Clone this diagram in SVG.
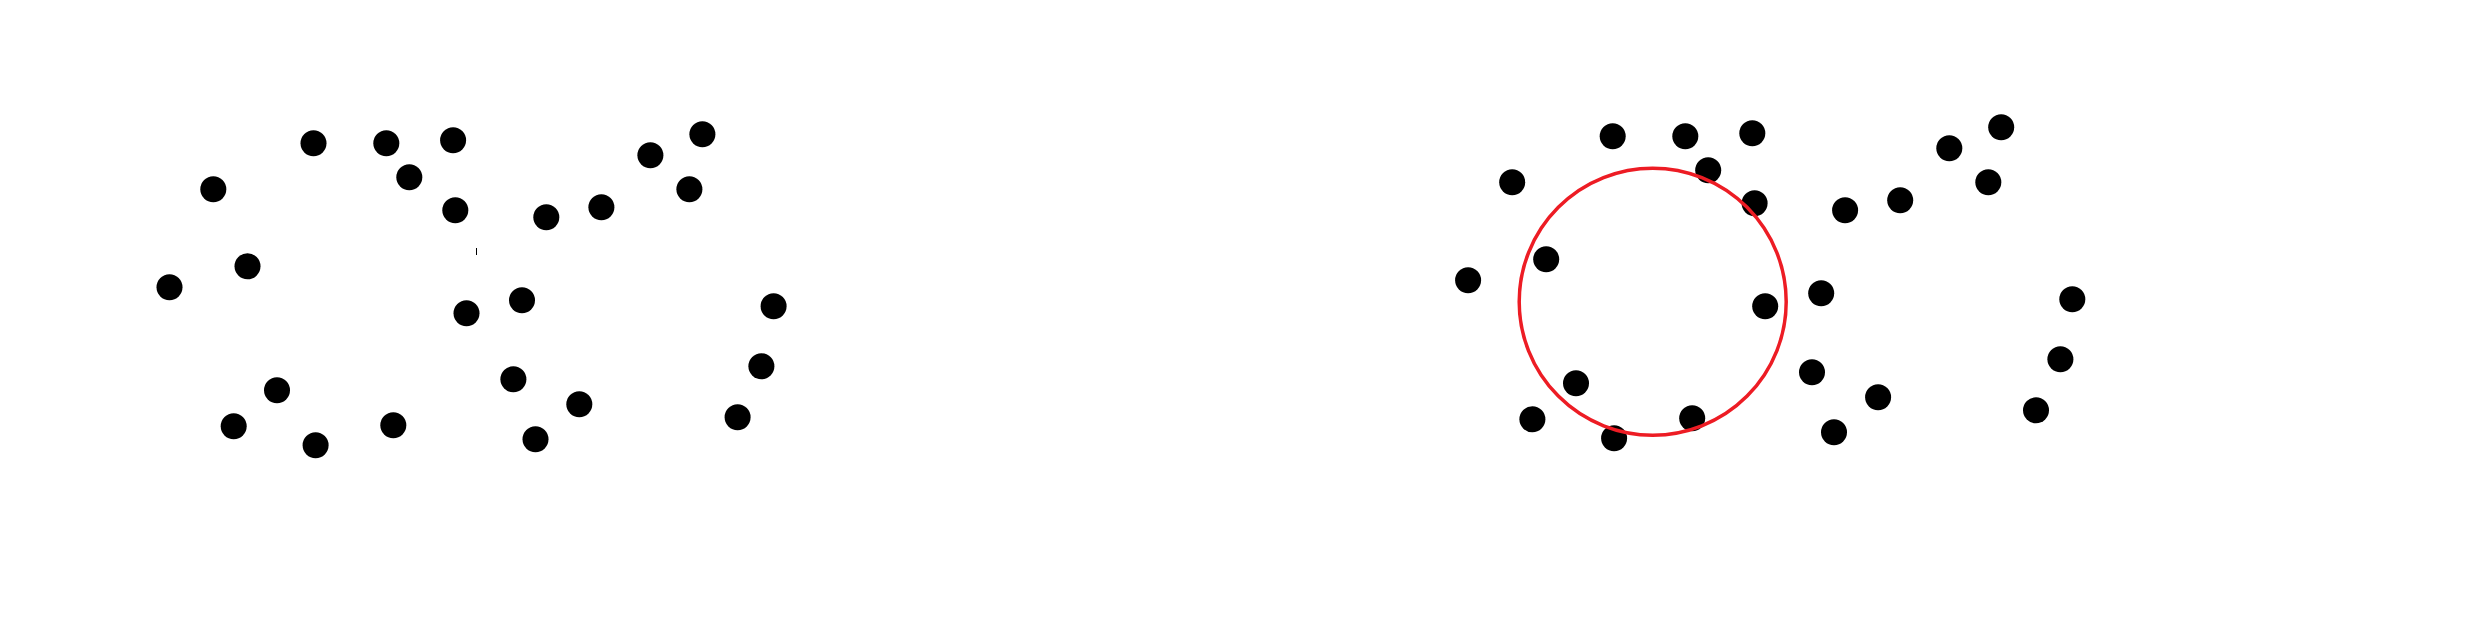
<svg xmlns="http://www.w3.org/2000/svg" width="2485" height="637" viewBox="0 0 2485 637">
<style>
.dot{fill:#000}
.ring{fill:none;stroke:#ED1C24;stroke-width:3.5}
</style>
<rect width="2485" height="637" fill="#fff"/>
<g id="left-panel">
<circle class="dot" cx="313.5" cy="143.3" r="13"/>
<circle class="dot" cx="386.3" cy="143.3" r="13"/>
<circle class="dot" cx="453.1" cy="140.3" r="13"/>
<circle class="dot" cx="409.3" cy="177.3" r="13"/>
<circle class="dot" cx="213.3" cy="189.3" r="13"/>
<circle class="dot" cx="455.3" cy="210.3" r="13"/>
<circle class="dot" cx="546.3" cy="217.3" r="13"/>
<circle class="dot" cx="601.4" cy="207.3" r="13"/>
<circle class="dot" cx="650.4" cy="155.3" r="13"/>
<circle class="dot" cx="702.4" cy="134.3" r="13"/>
<circle class="dot" cx="689.4" cy="189.3" r="13"/>
<circle class="dot" cx="247.5" cy="266.3" r="13"/>
<circle class="dot" cx="169.5" cy="287.3" r="13"/>
<circle class="dot" cx="466.5" cy="313.3" r="13"/>
<circle class="dot" cx="522" cy="300.3" r="13"/>
<circle class="dot" cx="773.6" cy="306.3" r="13"/>
<circle class="dot" cx="761.4" cy="366.3" r="13"/>
<circle class="dot" cx="737.6" cy="417.3" r="13"/>
<circle class="dot" cx="513.4" cy="379.3" r="13"/>
<circle class="dot" cx="579.3" cy="404.3" r="13"/>
<circle class="dot" cx="535.5" cy="439.3" r="13"/>
<circle class="dot" cx="277" cy="390.3" r="13"/>
<circle class="dot" cx="233.7" cy="426.3" r="13"/>
<circle class="dot" cx="315.6" cy="445.3" r="13"/>
<circle class="dot" cx="393.3" cy="425.3" r="13"/>
<rect x="476" y="248" width="1" height="7" fill="#000"/>
</g>
<g id="right-panel">
<circle class="dot" cx="1612.7" cy="136.3" r="13"/>
<circle class="dot" cx="1685.3" cy="136.3" r="13"/>
<circle class="dot" cx="1752.3" cy="133.3" r="13"/>
<circle class="dot" cx="1708.2" cy="170.3" r="13"/>
<circle class="dot" cx="1512.2" cy="182.3" r="13"/>
<circle class="dot" cx="1754.6" cy="203.3" r="13"/>
<circle class="dot" cx="1845.1" cy="210.3" r="13"/>
<circle class="dot" cx="1900.2" cy="200.3" r="13"/>
<circle class="dot" cx="1949.3" cy="148.3" r="13"/>
<circle class="dot" cx="2001.2" cy="127.3" r="13"/>
<circle class="dot" cx="1988.3" cy="182.3" r="13"/>
<circle class="dot" cx="1546.2" cy="259.3" r="13"/>
<circle class="dot" cx="1468.1" cy="280.3" r="13"/>
<circle class="dot" cx="1765.2" cy="306.3" r="13"/>
<circle class="dot" cx="1821.2" cy="293.3" r="13"/>
<circle class="dot" cx="2072.3" cy="299.3" r="13"/>
<circle class="dot" cx="2060.4" cy="359.3" r="13"/>
<circle class="dot" cx="2036" cy="410.3" r="13"/>
<circle class="dot" cx="1812" cy="372.3" r="13"/>
<circle class="dot" cx="1878.1" cy="397.3" r="13"/>
<circle class="dot" cx="1834" cy="432.3" r="13"/>
<circle class="dot" cx="1576" cy="383.3" r="13"/>
<circle class="dot" cx="1532.4" cy="419.3" r="13"/>
<circle class="dot" cx="1614.1" cy="438.3" r="13"/>
<circle class="dot" cx="1692.2" cy="418.3" r="13"/>
<circle class="ring" cx="1652.7" cy="301.7" r="133.5"/>
</g>
</svg>
